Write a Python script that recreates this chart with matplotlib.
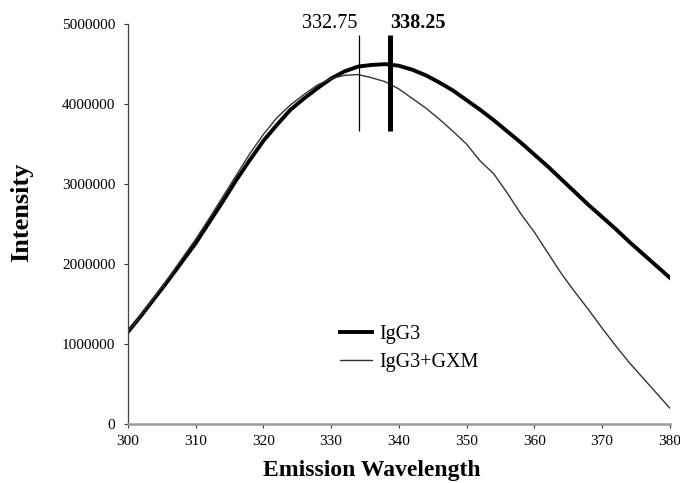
import matplotlib
matplotlib.use('Agg')
import matplotlib.pyplot as plt

plt.rcParams['font.family'] = ['Liberation Serif', 'DejaVu Serif']

# emission spectra (intensity in millions)
wavelength = [300, 302, 304, 306, 308, 310, 312, 314, 316, 318, 320, 322, 324, 326,
              328, 330, 332, 334, 336, 338, 340, 342, 344, 346, 348, 350, 352, 354,
              356, 358, 360, 362, 364, 366, 368, 370, 372, 374, 376, 378, 380]
igg3 = [1.15, 1.36, 1.58, 1.80, 2.03, 2.26, 2.52, 2.78, 3.05, 3.30, 3.54, 3.74, 3.93, 4.07,
        4.20, 4.32, 4.41, 4.47, 4.49, 4.50, 4.48, 4.43, 4.36, 4.27, 4.17, 4.05, 3.93, 3.80,
        3.66, 3.52, 3.37, 3.22, 3.06, 2.90, 2.74, 2.59, 2.44, 2.28, 2.13, 1.98, 1.83]
igg3_gxm = [1.15, 1.37, 1.60, 1.83, 2.07, 2.31, 2.57, 2.84, 3.11, 3.38, 3.62, 3.83, 3.99, 4.12,
            4.24, 4.32, 4.36, 4.37, 4.33, 4.28, 4.19, 4.07, 3.95, 3.81, 3.66, 3.50, 3.29, 3.13,
            2.89, 2.63, 2.40, 2.14, 1.88, 1.65, 1.43, 1.20, 0.98, 0.77, 0.58, 0.39, 0.20]

# peak markers
peak_pos = [334.1, 338.7]
peak_labels = ['332.75', '338.25']
label_pos = [329.8, 342.8]

igg3 = [v * 1e6 for v in igg3]
igg3_gxm = [v * 1e6 for v in igg3_gxm]

fig = plt.figure(figsize=(6.8, 4.83), dpi=100)
ax = fig.add_axes([0.188, 0.122, 0.797, 0.828])

ax.plot(wavelength, igg3, color='black', lw=2.8, label='IgG3')
ax.plot(wavelength, igg3_gxm, color='#333333', lw=1.0, label='IgG3+GXM')

ax.vlines(peak_pos[0], 3.67e6, 4.87e6, color='black', lw=0.9)
ax.vlines(peak_pos[1], 3.67e6, 4.87e6, color='black', lw=3.6)
ax.text(label_pos[0], 5.01e6, peak_labels[0], fontsize=14.5, ha='center', va='center')
ax.text(label_pos[1], 5.01e6, peak_labels[1], fontsize=14.5, ha='center', va='center',
        fontweight='bold')

ax.set_xlim(300, 380)
ax.set_ylim(0, 5e6)
ax.set_xticks(range(300, 381, 10))
ax.set_yticks([0, 1e6, 2e6, 3e6, 4e6, 5e6])
ax.set_yticklabels(['0', '1000000', '2000000', '3000000', '4000000', '5000000'])
ax.tick_params(labelsize=11, length=3, width=0.8, pad=6, colors='#333333', labelcolor='black')
ax.tick_params(axis='x', pad=5)

for s in ['top', 'right']:
    ax.spines[s].set_visible(False)
ax.spines['left'].set_color('#444444')
ax.spines['left'].set_linewidth(0.9)
ax.spines['bottom'].set_color('#999999')
ax.spines['bottom'].set_linewidth(1.8)

ax.set_xlabel('Emission Wavelength', fontsize=17, fontweight='bold')
ax.xaxis.set_label_coords(0.45, -0.09)
ax.set_ylabel('Intensity', fontsize=19, fontweight='bold')
ax.yaxis.set_label_coords(-0.175, 0.53)

ax.legend(loc='center left', bbox_to_anchor=(0.391, 0.19), frameon=False, fontsize=14.5,
          handlelength=1.6, handletextpad=0.35, borderpad=0, borderaxespad=0,
          labelspacing=0.45)

plt.savefig('out.png', dpi=100)
